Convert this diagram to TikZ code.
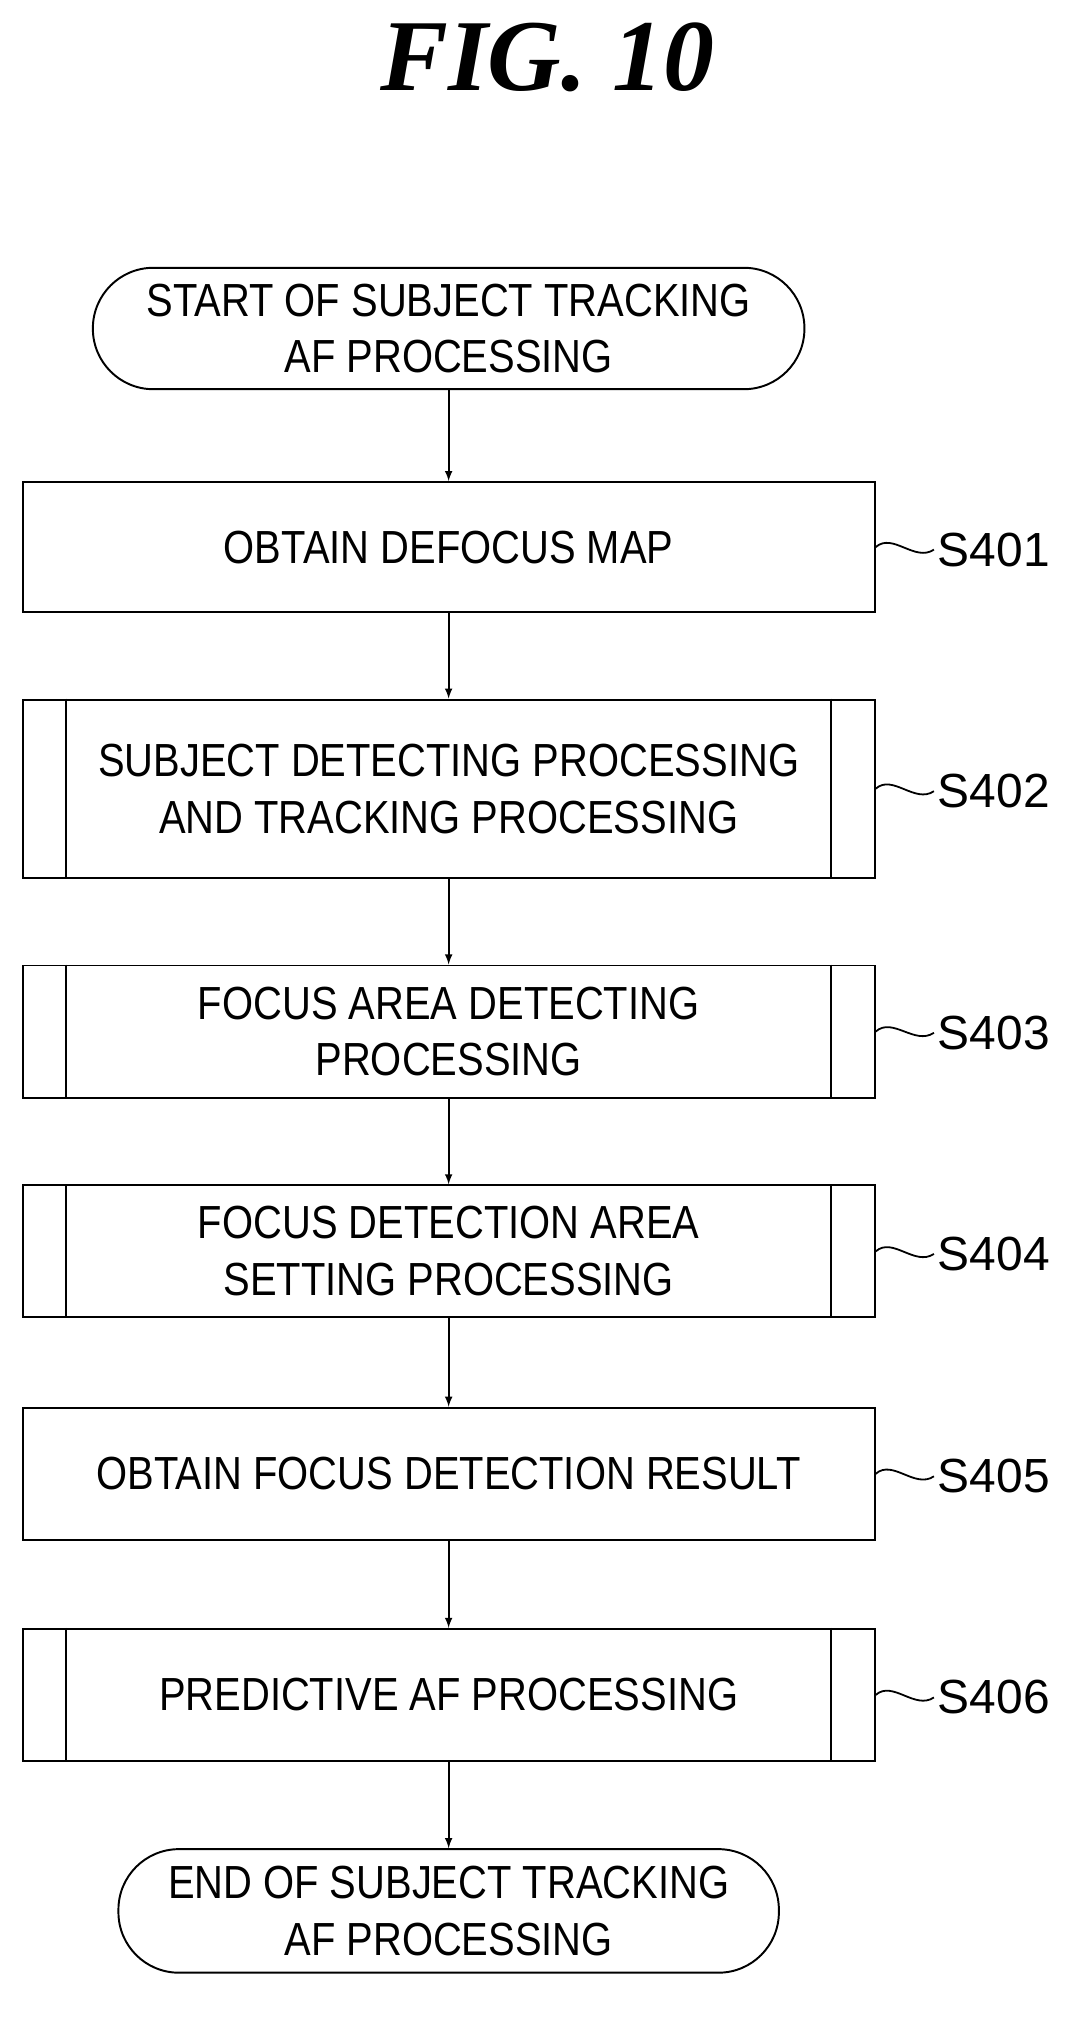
\documentclass[tikz,border=0pt]{standalone}
\usepackage{fontspec}
\setmainfont{Liberation Sans}[FakeStretch=0.86]
\newfontfamily\titlefont{Liberation Serif}
\newfontfamily\labfont{Liberation Sans}
\usetikzlibrary{calc}
\begin{document}
\begin{tikzpicture}[x=0.03cm,y=-0.03cm,
  every node/.style={font=\fontsize{31}{38}\selectfont, align=center, line width=1.3pt},
  box/.style={draw, rectangle, minimum width=20.0cm, inner sep=0pt},
  term/.style={draw, rectangle, rounded corners=1.42cm, inner sep=0pt, minimum height=2.85cm},
  lab/.style={font=\labfont\fontsize{32}{36}\selectfont, anchor=west, inner sep=0pt},
  arr/.style={->, >={latex}, line width=1.3pt},
  >=latex]
\useasboundingbox (0,0) rectangle (850,1578);
\node[font=\titlefont\bfseries\itshape\fontsize{68}{80}\selectfont] (title) at (428,45) {FIG. 10};
\node[term, minimum width=16.7cm] (s) at (351,257) {START OF SUBJECT TRACKING\\AF PROCESSING};
\node[box, minimum height=3.05cm] (b1) at (351,428) {OBTAIN DEFOCUS MAP};
\node[box, minimum height=4.18cm] (b2) at (351,617) {SUBJECT DETECTING PROCESSING\\AND TRACKING PROCESSING};
\node[box, minimum height=3.1cm] (b3) at (351,807) {FOCUS AREA DETECTING\\PROCESSING};
\node[box, minimum height=3.1cm] (b4) at (351,979) {FOCUS DETECTION AREA\\SETTING PROCESSING};
\node[box, minimum height=3.1cm] (b5) at (351,1153) {OBTAIN FOCUS DETECTION RESULT};
\node[box, minimum height=3.1cm] (b6) at (351,1326) {PREDICTIVE AF PROCESSING};
\node[term, minimum width=15.5cm, minimum height=2.9cm] (e) at (351,1495) {END OF SUBJECT TRACKING\\AF PROCESSING};
\foreach \b in {b2,b3,b4,b6}{
  \draw[line width=1.3pt] ([xshift=1.05cm]\b.north west) -- ([xshift=1.05cm]\b.south west);
  \draw[line width=1.3pt] ([xshift=-1.05cm]\b.north east) -- ([xshift=-1.05cm]\b.south east);
}
\foreach \b/\l/\y in {b1/S401/430,b2/S402/619,b3/S403/808,b4/S404/981,b5/S405/1155,b6/S406/1328}{
  \node[lab] (l\b) at (733,\y) {\l};
  \draw[line width=1.2pt] (\b.east) .. controls +(0.4cm,0.35cm) and +(-0.45cm,-0.3cm) .. ([xshift=-2pt]l\b.west);
}
\draw[arr] (s) -- (b1);
\draw[arr] (b1) -- (b2);
\draw[arr] (b2) -- (b3);
\draw[arr] (b3) -- (b4);
\draw[arr] (b4) -- (b5);
\draw[arr] (b5) -- (b6);
\draw[arr] (b6) -- (e);
\end{tikzpicture}
\end{document}
